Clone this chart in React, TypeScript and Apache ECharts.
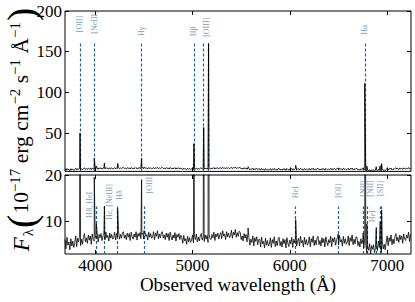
import React, { useEffect, useRef } from "react";
import * as echarts from "echarts";

// ---------- data ----------
const waveStart = 3690;
const waveStep = 10;
// continuum flux (1e-17 erg/cm2/s/A), one value every 10 A from 3690 A
const continuumFlux = [
  6.1, 4.1, 6.6, 4.9, 5.6, 3.9, 6.3, 4.7, 5.8, 4.4,
  5.3, 6.9, 4.6, 6.4, 5.6, 7.1, 4.8, 6.2, 5.1, 6.6,
  7.4, 5.6, 6.5, 5.3, 7.1, 6.0, 6.9, 5.1, 7.3, 6.1,
  5.8, 7.0, 6.3, 7.6, 5.6, 7.2, 6.5, 7.4, 5.9, 6.9,
  7.3, 6.0, 7.7, 6.5, 7.0, 5.8, 7.5, 6.4, 7.2, 6.2,
  6.5, 7.7, 6.0, 7.4, 6.7, 7.9, 6.2, 7.2, 6.4, 7.5,
  7.8, 6.4, 7.1, 6.1, 7.5, 6.6, 7.4, 5.9, 7.7, 6.7,
  6.2, 7.3, 6.6, 7.8, 6.0, 7.4, 6.8, 7.6, 6.3, 7.2,
  7.5, 6.2, 7.9, 6.8, 7.2, 6.0, 7.7, 6.6, 7.4, 6.4,
  6.6, 7.8, 6.1, 7.5, 6.8, 8.0, 6.3, 7.3, 6.5, 7.6,
  7.8, 6.4, 7.1, 6.1, 7.5, 6.6, 7.4, 5.9, 7.7, 6.7,
  6.0, 7.1, 6.4, 7.6, 5.8, 7.2, 6.6, 7.4, 6.1, 7.0,
  6.6, 5.3, 7.0, 5.8, 6.3, 5.1, 6.8, 5.6, 6.5, 5.5,
  5.9, 7.1, 5.4, 6.8, 6.1, 7.3, 5.6, 6.6, 5.8, 6.9,
  7.4, 6.0, 6.7, 5.7, 7.1, 6.2, 7.0, 5.5, 7.3, 6.3,
  6.1, 7.2, 6.5, 7.7, 5.9, 7.3, 6.7, 7.5, 6.2, 7.1,
  7.6, 6.3, 8.0, 6.9, 7.3, 6.1, 7.8, 6.7, 7.5, 6.5,
  6.9, 8.1, 6.4, 7.7, 7.1, 8.3, 6.6, 7.6, 6.8, 7.9,
  7.7, 6.1, 6.9, 5.8, 7.4, 6.4, 7.2, 5.6, 7.6, 6.5,
  4.9, 6.2, 5.5, 6.9, 4.7, 6.5, 5.7, 6.7, 5.0, 6.1,
  6.2, 4.5, 6.6, 5.2, 5.7, 4.3, 6.4, 4.9, 5.9, 4.7,
  5.1, 6.5, 4.4, 6.1, 5.3, 6.7, 4.6, 5.8, 4.8, 6.3,
  6.6, 4.8, 5.7, 4.5, 6.3, 5.2, 6.1, 4.3, 6.5, 5.3,
  4.6, 6.0, 5.2, 6.6, 4.4, 6.2, 5.4, 6.4, 4.7, 5.8,
  6.4, 4.7, 6.8, 5.4, 5.9, 4.5, 6.6, 5.1, 6.1, 4.9,
  5.3, 6.7, 4.6, 6.3, 5.5, 6.9, 4.8, 6.0, 5.0, 6.5,
  6.8, 5.0, 5.9, 4.7, 6.5, 5.4, 6.3, 4.5, 6.7, 5.5,
  4.8, 6.1, 5.4, 6.8, 4.6, 6.4, 5.6, 6.6, 4.9, 6.0,
  6.6, 4.9, 7.0, 5.6, 6.1, 4.7, 6.8, 5.3, 6.3, 5.1,
  5.5, 6.9, 4.8, 6.5, 5.7, 7.1, 5.0, 6.2, 5.2, 6.7,
  6.6, 4.8, 5.7, 4.5, 6.3, 5.2, 6.1, 4.3, 6.5, 5.3,
  3.2, 4.5, 3.8, 5.2, 3.0, 4.8, 4.0, 5.0, 3.3, 4.4,
  5.4, 3.7, 5.8, 4.4, 4.9, 3.5, 5.6, 4.1, 5.1, 3.9,
  5.5, 6.9, 4.8, 6.5, 5.7, 7.1, 5.0, 6.2, 5.2, 6.7,
  7.4, 5.8, 6.6, 5.5, 7.1, 6.1, 6.9, 5.3, 7.3, 6.2,
  5.9, 7.1, 6.4, 7.7, 5.7, 7.3,
];
// emission line peaks [observed wavelength, peak flux]
const emissionPeaks: [number, number][] = [
  [3844, 50], [3991, 19.5], [4012, 9.5], [4095, 13.3], [4231, 12.8],
  [4477, 19], [4500, 8.0], [5014, 37], [5115, 57], [5165, 160],
  [5571, 8.6], [6060, 10.4], [6498, 7.3], [6754, 7.5], [6770, 111],
  [6791, 9.5], [6888, 8.7], [6929, 10], [6943, 12.5],
];

// line markers, top panel
const topLineWaves = [3844, 3991, 4477, 5014, 5115, 5165, 6770];
const topLineTop = 160;
const topLabelNames = ["[OII]", "[NeIII]", "Hγ", "Hβ", "[OIII]", "Hα"];
const topLabelWaves = [3844, 3991, 4477, 5014, 5142, 6770];
const topLabelY = [184, 186, 175, 175, 180, 177];

// line markers, bottom panel: [wavelength, top of dashed line]
const bottomLines: [number, number][] = [
  [4012, 13.2], [4095, 13.2], [4231, 13.2], [4500, 13.2], [6060, 13.2],
  [6498, 13.2], [6754, 13.2], [6791, 13.2], [6888, 8.6], [6929, 13.2], [6943, 13.2],
];
const bottomLabelNames = ["H8, HeI", "Hε, [NeIII]", "Hδ", "[OIII]", "HeI", "[OI]", "[NII]", "[NII]", "[SII]", "HeI"];
const bottomLabelWaves = [3943, 4149, 4252, 4555, 6058, 6500, 6755, 6830, 6935, 6850];
const bottomLabelY = [13.6, 14.2, 15.7, 18.1, 16.3, 16.6, 17.1, 17.1, 17.1, 11.1];

const xTicks = [4000, 5000, 6000, 7000];
const topYTicks = [50, 100, 150, 200];
const bottomYTicks = [10, 20];
const xMin = 3690;
const xMax = 7245;
const topYRange = [3, 200];
const bottomYRange = [3, 20];

const FONT = "'Liberation Serif', 'Times New Roman', serif";
const LINE_COLOR = "#1f6391";
const LABEL_COLOR = "#4d7fa6";

export default function App() {
  const ref = useRef<HTMLDivElement>(null);
  useEffect(() => {
    if (!ref.current) return;
    const chart = echarts.init(ref.current, undefined, { renderer: "svg" });

    const spectrum = continuumFlux
      .map((f, i) => [waveStart + i * waveStep, f])
      .concat(emissionPeaks.map((p) => [p[0], p[1]]))
      .sort((a, b) => a[0] - b[0]);

    const tick = (vals: number[]) => ({
      inside: true,
      length: 4,
      customValues: vals,
      lineStyle: { color: "#000", width: 1 },
    });
    const axisLabel = (vals: number[]) => ({
      show: true,
      customValues: vals,
      formatter: (v: number) => String(v),
      fontFamily: FONT,
      fontSize: 17,
      color: "#000",
      margin: 3,
    });
    const xAx = (grid: number, pos: string, labels: boolean, extra: any = {}) => ({
      gridIndex: grid,
      type: "value",
      min: xMin,
      max: xMax,
      position: pos,
      axisLine: { show: false },
      splitLine: { show: false },
      axisTick: tick(xTicks),
      axisLabel: labels ? axisLabel(xTicks) : { show: false },
      ...extra,
    });
    const yAx = (grid: number, pos: string, range: number[], ticks: number[], labels: boolean) => ({
      gridIndex: grid,
      type: "value",
      min: range[0],
      max: range[1],
      position: pos,
      axisLine: { show: false },
      splitLine: { show: false },
      axisTick: tick(ticks),
      axisLabel: labels ? axisLabel(ticks) : { show: false },
    });
    const labelStyle = {
      show: true,
      position: "inside",
      rotate: 90,
      formatter: "{b}",
      fontFamily: FONT,
      fontSize: 8,
      color: LABEL_COLOR,
    };

    chart.setOption({
      animation: false,
      backgroundColor: "#fff",
      grid: [
        { left: 65, top: 11, width: 346, height: 160.4, show: true, borderColor: "#000", borderWidth: 1 },
        { left: 65, top: 175, width: 346, height: 79, show: true, borderColor: "#000", borderWidth: 1 },
      ],
      xAxis: [
        xAx(0, "bottom", false),
        xAx(0, "top", false),
        xAx(1, "bottom", true, {
          name: "Observed wavelength (Å)",
          nameLocation: "middle",
          nameGap: 20,
          nameTextStyle: { fontFamily: FONT, fontSize: 19, color: "#000", verticalAlign: "top" },
        }),
        xAx(1, "top", false),
      ],
      yAxis: [
        yAx(0, "left", topYRange, topYTicks, true),
        yAx(0, "right", topYRange, topYTicks, false),
        yAx(1, "left", bottomYRange, bottomYTicks, true),
        yAx(1, "right", bottomYRange, bottomYTicks, false),
      ],
      graphic: [
        {
          type: "text",
          x: 21,
          y: 129,
          rotation: Math.PI / 2,
          style: {
            text: "{it|F}{sub|λ}{par|(}{n|10}{sup|−17}{n| erg cm}{sup|−2}{n| s}{sup|−1}{n| Å}{sup|−1}{par|)}",
            align: "center",
            verticalAlign: "middle",
            fill: "#000",
            rich: {
              it: { fontFamily: FONT, fontSize: 23, fontStyle: "italic", fill: "#000" },
              sub: { fontFamily: FONT, fontSize: 15, fill: "#000", padding: [13, 0, 0, 1] },
              par: { fontFamily: FONT, fontSize: 40, fill: "#000", padding: [0, 1, 0, 1] },
              n: { fontFamily: FONT, fontSize: 21.5, fill: "#000" },
              sup: { fontFamily: FONT, fontSize: 15, fill: "#000", padding: [0, 0, 13, 0] },
            },
          },
        },
      ],
      series: [
        {
          type: "lines",
          coordinateSystem: "cartesian2d",
          xAxisIndex: 0,
          yAxisIndex: 0,
          silent: true,
          z: 1,
          lineStyle: { color: LINE_COLOR, width: 1.2, type: [3, 2], opacity: 1 },
          data: topLineWaves.map((w) => ({ coords: [[w, topYRange[0]], [w, topLineTop]] })),
        },
        {
          type: "lines",
          coordinateSystem: "cartesian2d",
          xAxisIndex: 2,
          yAxisIndex: 2,
          silent: true,
          z: 1,
          lineStyle: { color: LINE_COLOR, width: 1.2, type: [3, 2], opacity: 1 },
          data: bottomLines.map((l) => ({ coords: [[l[0], bottomYRange[0]], [l[0], l[1]]] })),
        },
        {
          type: "line",
          xAxisIndex: 0,
          yAxisIndex: 0,
          data: spectrum,
          showSymbol: false,
          silent: true,
          z: 2,
          lineStyle: { color: "#000", width: 0.9 },
        },
        {
          type: "line",
          xAxisIndex: 2,
          yAxisIndex: 2,
          data: spectrum,
          showSymbol: false,
          silent: true,
          z: 2,
          lineStyle: { color: "#000", width: 0.8 },
        },
        {
          type: "scatter",
          xAxisIndex: 0,
          yAxisIndex: 0,
          symbolSize: 0,
          silent: true,
          z: 3,
          itemStyle: { color: "transparent" },
          label: labelStyle,
          data: topLabelNames.map((n, i) => ({ name: n, value: [topLabelWaves[i], topLabelY[i]] })),
        },
        {
          type: "scatter",
          xAxisIndex: 2,
          yAxisIndex: 2,
          symbolSize: 0,
          silent: true,
          z: 3,
          itemStyle: { color: "transparent" },
          label: labelStyle,
          data: bottomLabelNames.map((n, i) => ({ name: n, value: [bottomLabelWaves[i], bottomLabelY[i]] })),
        },
      ],
    });
    return () => chart.dispose();
  }, []);
  return <div ref={ref} style={{ position: "absolute", left: 0, top: 0, width: 415, height: 302 }} />;
}
